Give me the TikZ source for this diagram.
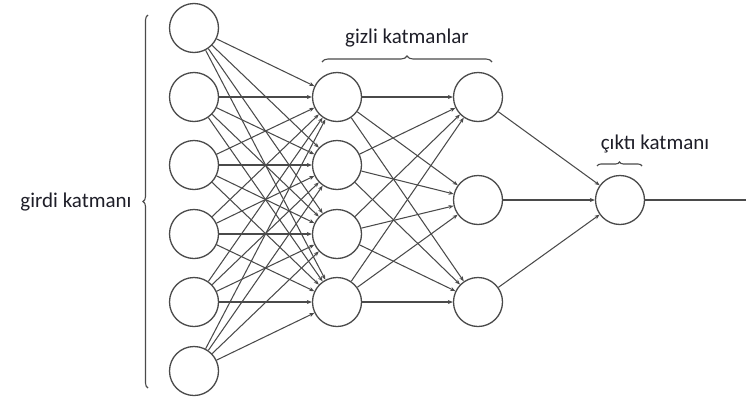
\documentclass[tikz,border=0pt]{standalone}
\usepackage{fontspec}
\setmainfont{Carlito}
\usetikzlibrary{arrows.meta,decorations.pathreplacing}
\definecolor{linec}{HTML}{4A4A4A}
\definecolor{textc}{HTML}{1E1E28}
\tikzset{
  neuron/.style={circle,draw=linec,line width=1.3pt,minimum size=49pt,inner sep=0pt,fill=white},
  conn/.style={draw=linec,line width=1.05pt,-{Stealth[length=5pt,width=4pt]}},
  plainconn/.style={draw=linec,line width=1.05pt},
  lbl/.style={text=textc,font=\fontsize{21}{24}\selectfont,inner sep=0pt},
  brc/.style={draw=linec,line width=1.1pt,decorate,decoration={brace,amplitude=#1}}
}
\begin{document}
\begin{tikzpicture}[x=1pt,y=-1pt]
\useasboundingbox (0,0) rectangle (746,407);
% input layer
\foreach \i/\y in {1/28,2/97,3/165,4/234,5/302,6/371}
  \node[neuron] (in\i) at (194,\y) {};
% hidden layer 1
\foreach \i/\y in {1/97,2/165,3/234,4/302}
  \node[neuron] (ha\i) at (337,\y) {};
% hidden layer 2
\foreach \i/\y in {1/97,2/200,3/302}
  \node[neuron] (hb\i) at (478,\y) {};
% output
\node[neuron] (out) at (620,200) {};
\coordinate (end) at (746,200);
% connections
\foreach \i in {1,...,6}
  \foreach \j in {1,...,4}
    \draw[conn] (in\i) -- (ha\j);
\foreach \i in {1,...,4}
  \foreach \j in {1,...,3}
    \draw[conn] (ha\i) -- (hb\j);
\foreach \i in {1,...,3}
  \draw[conn] (hb\i) -- (out);
\draw[plainconn] (out) -- (end);
% braces
\coordinate (gb1) at (148,388);
\coordinate (gb2) at (148,15);
\draw[brc=5pt] (gb1) -- (gb2);
\coordinate (hb1s) at (322,62);
\coordinate (hb1e) at (492,62);
\draw[brc=6pt] (hb1s) -- (hb1e);
\coordinate (ob1) at (597,166);
\coordinate (ob2) at (642,166);
\draw[brc=4pt] (ob1) -- (ob2);
% labels
\node[lbl] (tgirdi) at (76,202) {girdi katmanı};
\node[lbl] (tgizli) at (407,38) {gizli katmanlar};
\node[lbl] (tcikti) at (655,144) {çıktı katmanı};
\end{tikzpicture}
\end{document}
